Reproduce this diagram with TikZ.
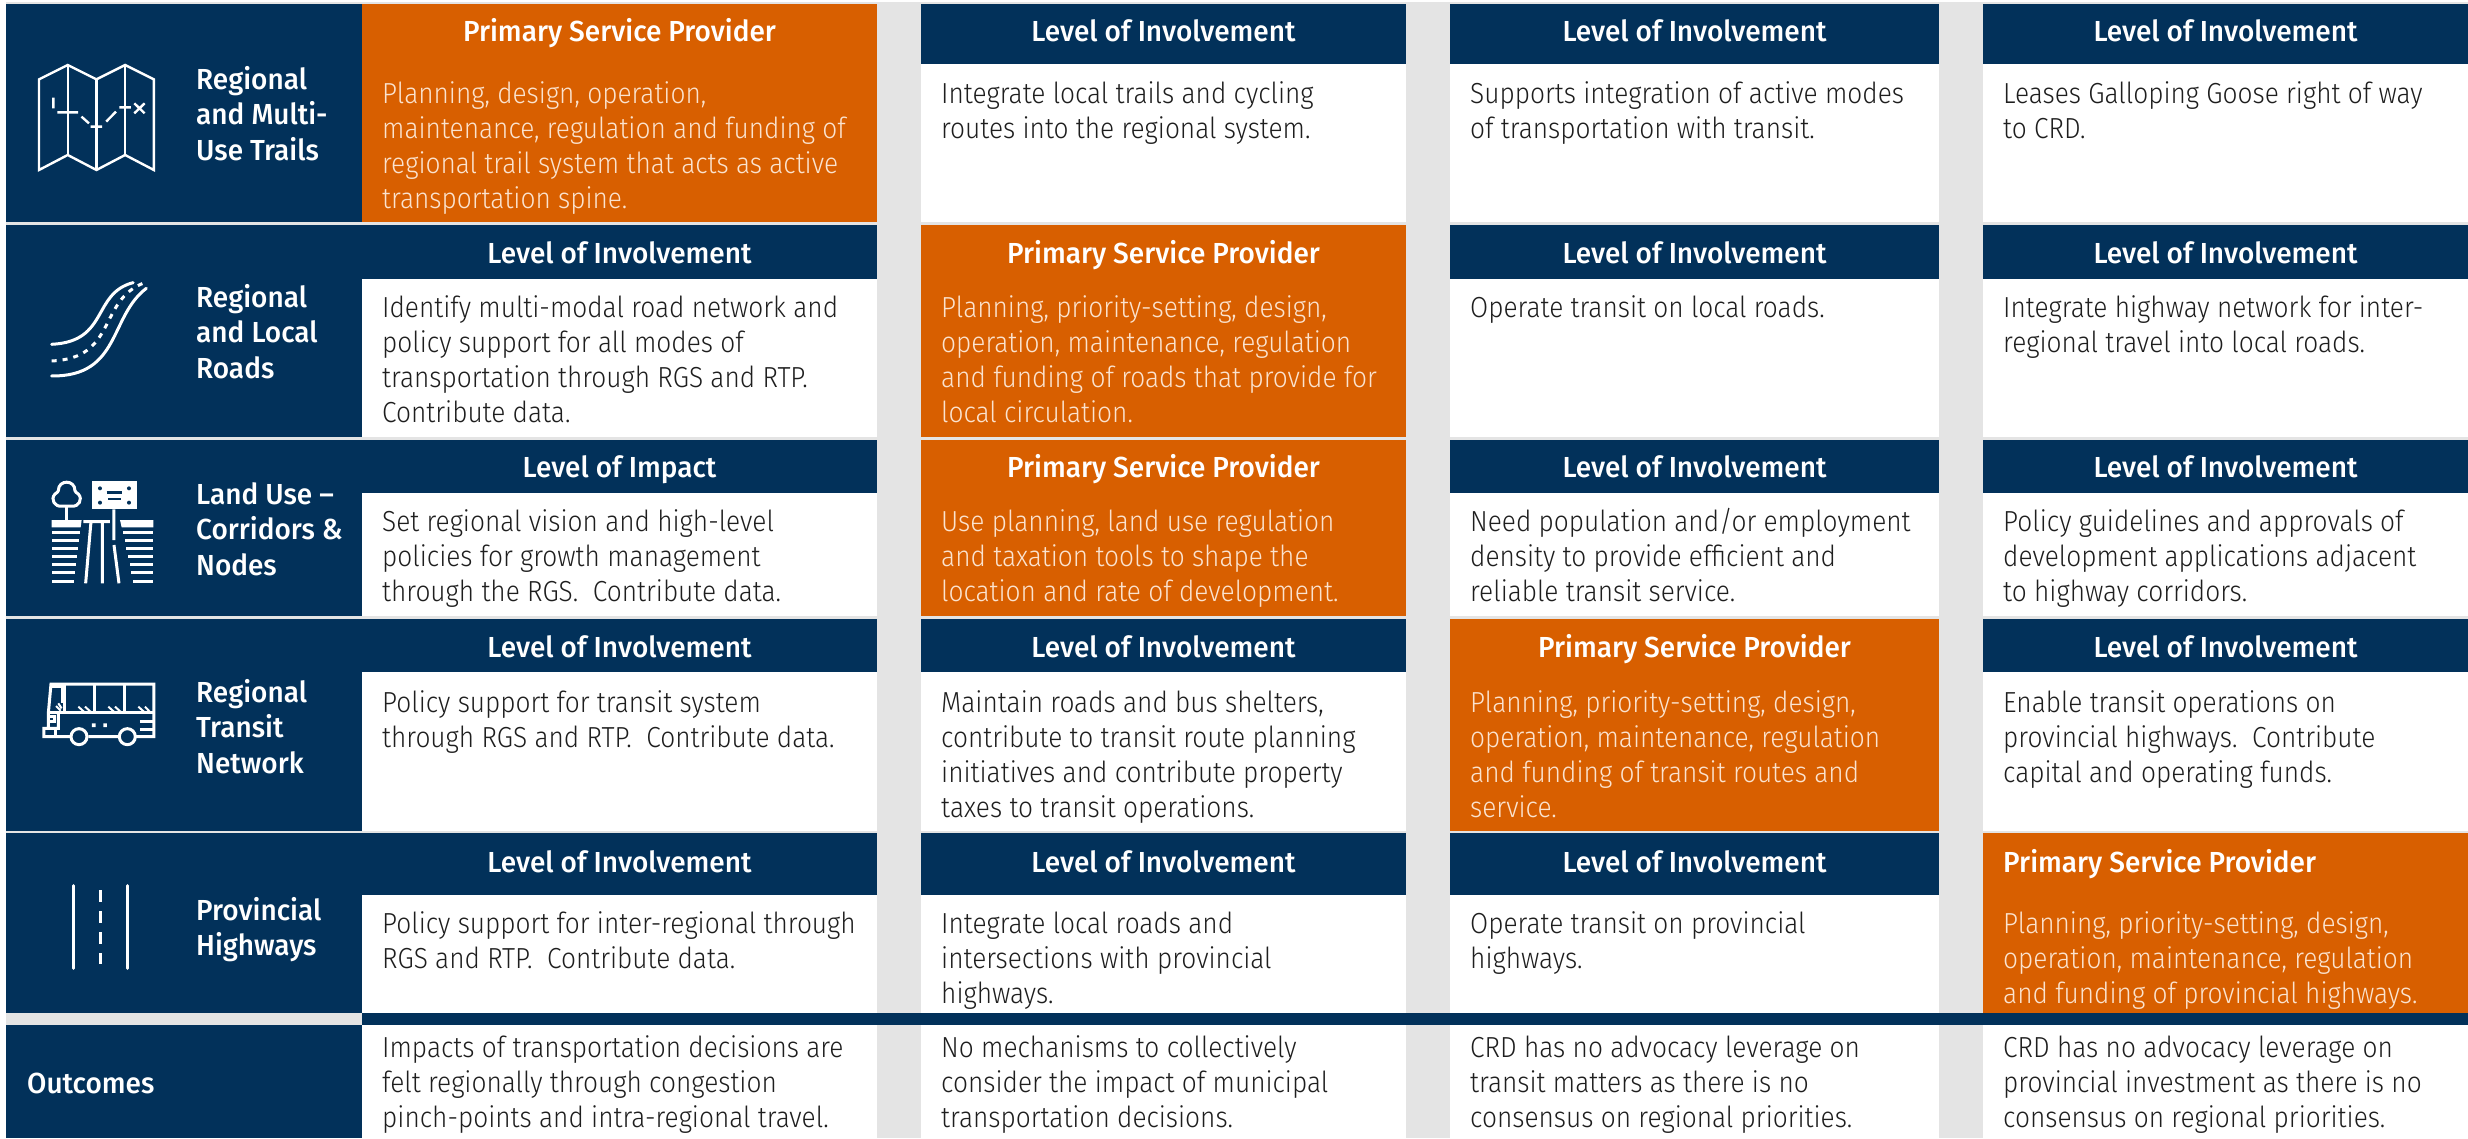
\documentclass[tikz,border=0pt]{standalone}
\usepackage{fontspec}
\newfontfamily\bodyf[FakeStretch=0.905]{Fira Sans Light}
\newfontfamily\headf[FakeStretch=0.965]{Fira Sans Medium}
\definecolor{navy}{HTML}{02315A}
\definecolor{orng}{HTML}{D85F00}
\definecolor{gapg}{HTML}{E4E4E4}
\definecolor{ink}{HTML}{1E1E1E}
\definecolor{orink}{HTML}{FBE3CF}
\newcommand\rowdim[5]{\def\rtop{#1}\def\rhead{#2}\def\rbot{#3}\def\rhb{#4}\def\rbb{#5}}
\newcommand\cell[6]{%
  \ifnum#4=1 \def\hc{orng}\def\bc{orng}\def\tc{orink}\else \def\hc{navy}\def\bc{white}\def\tc{ink}\fi
  \node[cellbox,fill=\hc,minimum width={(#3-#2)*1pt},minimum height={(\rhead-\rtop)*1pt}] (#1h) at (#2,\rtop) {};
  \node[cellbox,fill=\bc,minimum width={(#3-#2)*1pt},minimum height={(\rbot-\rhead)*1pt}] (#1b) at (#2,\rhead) {};
  \node[headtext,anchor=base] (#1ht) at ({(#2+#3)/2},\rhb) {#5};
  \node[bodytext,text=\tc] (#1bt) at ({#2+20},{\rbb-25}) {\rule{0pt}{25pt}#6};
}
\tikzset{
  x=1pt,y=-1pt,
  cellbox/.style={anchor=north west,inner sep=0pt,outer sep=0pt,draw=none},
  headtext/.style={inner sep=0pt,text=white,font=\headf\fontsize{29}{35}\selectfont},
  bodytext/.style={anchor=north west,inner sep=0pt,align=left,font=\bodyf\fontsize{29}{35.2}\selectfont},
  rowlabel/.style={anchor=north west,inner sep=0pt,align=left,text=white,font=\headf\fontsize{29}{35.5}\selectfont},
  ico/.style={draw=white,line width=2.4pt,line join=miter},
  zoomA/.style={x=0.574pt,y=-0.3333pt},
  zoomB/.style={x=0.3333pt,y=-0.3333pt}
}
\begin{document}
\begin{tikzpicture}
\useasboundingbox (0,0) rectangle (2468,1138);
\fill[white] (0,0) rectangle (2468,1138);
\fill[gapg] (6,2) rectangle (2468,1138);
\def\Lev{Level of Involvement}
\def\Pri{Primary Service Provider}
% row 1
\rowdim{4}{64}{222}{41}{103}
\node[cellbox,fill=navy,minimum width=356pt,minimum height=218pt] (r1l) at (6,4) {};
\cell{ra}{362}{877}{1}{\Pri}{Planning, design, operation,\\maintenance, regulation and funding of\\regional trail system that acts as active\\transportation spine.}
\cell{rb}{921}{1406}{0}{\Lev}{Integrate local trails and cycling\\routes into the regional system.}
\cell{rc}{1450}{1939}{0}{\Lev}{Supports integration of active modes\\of transportation with transit.}
\cell{rd}{1983}{2468}{0}{\Lev}{Leases Galloping Goose right of way\\to CRD.}
\node[rowlabel] (l1) at (196,64) {\rule{0pt}{25pt}Regional\\and Multi-\\Use Trails};
% row 2
\rowdim{225}{279}{437}{263}{317}
\node[cellbox,fill=navy,minimum width=356pt,minimum height=212pt] (r2l) at (6,225) {};
\cell{sa}{362}{877}{0}{\Lev}{Identify multi-modal road network and\\policy support for all modes of\\transportation through RGS and RTP.\\Contribute data.}
\cell{sb}{921}{1406}{1}{\Pri}{Planning, priority-setting, design,\\operation, maintenance, regulation\\and funding of roads that provide for\\local circulation.}
\cell{sc}{1450}{1939}{0}{\Lev}{Operate transit on local roads.}
\cell{sd}{1983}{2468}{0}{\Lev}{Integrate highway network for inter-\\regional travel into local roads.}
\node[rowlabel] (l2) at (196,282) {\rule{0pt}{25pt}Regional\\and Local\\Roads};
% row 3
\rowdim{439.5}{493}{616}{477}{531}
\node[cellbox,fill=navy,minimum width=356pt,minimum height=176.5pt] (r3l) at (6,439.5) {};
\cell{ta}{362}{877}{0}{Level of Impact}{Set regional vision and high-level\\policies for growth management\\through the RGS.\ \ Contribute data.}
\cell{tb}{921}{1406}{1}{\Pri}{Use planning, land use regulation\\and taxation tools to shape the\\location and rate of development.}
\cell{tc}{1450}{1939}{0}{\Lev}{Need population and/or employment\\density to provide efficient and\\reliable transit service.}
\cell{td}{1983}{2468}{0}{\Lev}{Policy guidelines and approvals of\\development applications adjacent\\to highway corridors.}
\node[rowlabel] (l3) at (196,479) {\rule{0pt}{25pt}Land Use –\\Corridors \&\\Nodes};
% row 4
\rowdim{619}{672}{831}{657}{712}
\node[cellbox,fill=navy,minimum width=356pt,minimum height=212pt] (r4l) at (6,619) {};
\cell{ua}{362}{877}{0}{\Lev}{Policy support for transit system\\through RGS and RTP.\ \ Contribute data.}
\cell{ub}{921}{1406}{0}{\Lev}{Maintain roads and bus shelters,\\contribute to transit route planning\\initiatives and contribute property\\taxes to transit operations.}
\cell{uc}{1450}{1939}{1}{\Pri}{Planning, priority-setting, design,\\operation, maintenance, regulation\\and funding of transit routes and\\service.}
\cell{ud}{1983}{2468}{0}{\Lev}{Enable transit operations on\\provincial highways.\ \ Contribute\\capital and operating funds.}
\node[rowlabel] (l4) at (196,677) {\rule{0pt}{25pt}Regional\\Transit\\Network};
% row 5
\rowdim{833}{895}{1013}{872}{933}
\node[cellbox,fill=navy,minimum width=356pt,minimum height=180pt] (r5l) at (6,833) {};
\cell{va}{362}{877}{0}{\Lev}{Policy support for inter-regional through\\RGS and RTP.\ \ Contribute data.}
\cell{vb}{921}{1406}{0}{\Lev}{Integrate local roads and\\intersections with provincial\\highways.}
\cell{vc}{1450}{1939}{0}{\Lev}{Operate transit on provincial\\highways.}
\cell{vd}{1983}{2468}{1}{\phantom{x}}{Planning, priority-setting, design,\\operation, maintenance, regulation\\and funding of provincial highways.}
\node[headtext,anchor=base west] (vdh2) at (2003,872) {\Pri};
\node[rowlabel] (l5) at (196,895) {\rule{0pt}{25pt}Provincial\\Highways};
% band
\node[cellbox,fill=navy,minimum width=2106pt,minimum height=12pt] (band) at (362,1013) {};
% outcomes
\node[cellbox,fill=navy,minimum width=356pt,minimum height=113pt] (r6l) at (6,1025) {};
\node[rowlabel] (l6) at (27,1068) {\rule{0pt}{25pt}Outcomes};
\node[cellbox,fill=white,minimum width=515pt,minimum height=113pt] (oa) at (362,1025) {};
\node[cellbox,fill=white,minimum width=485pt,minimum height=113pt] (ob) at (921,1025) {};
\node[cellbox,fill=white,minimum width=489pt,minimum height=113pt] (oc) at (1450,1025) {};
\node[cellbox,fill=white,minimum width=485pt,minimum height=113pt] (od) at (1983,1025) {};
\node[bodytext,text=ink] (oat) at (382,1032) {\rule{0pt}{25pt}Impacts of transportation decisions are\\felt regionally through congestion\\pinch-points and intra-regional travel.};
\node[bodytext,text=ink] (obt) at (941,1032) {\rule{0pt}{25pt}No mechanisms to collectively\\consider the impact of municipal\\transportation decisions.};
\node[bodytext,text=ink] (oct) at (1470,1032) {\rule{0pt}{25pt}CRD has no advocacy leverage on\\transit matters as there is no\\consensus on regional priorities.};
\node[bodytext,text=ink] (odt) at (2003,1032) {\rule{0pt}{25pt}CRD has no advocacy leverage on\\provincial investment as there is no\\consensus on regional priorities.};
% icon: map
\begin{scope}[zoomA]
\draw[ico] (68,238)--(118,195)--(168,238)--(218,195)--(268,238)--(268,510)--(218,465)--(168,510)--(118,465)--(68,510)--cycle;
\draw[ico] (118,195)--(118,465) (168,238)--(168,510) (218,195)--(218,465);
\draw[ico] (93,293)--(93,325) (100,337)--(136,337) (142,350)--(155,370) (158,380)--(178,380) (185,365)--(202,335) (208,322)--(228,322) (234,310)--(252,340) (252,310)--(234,340);
% icon: roads
\draw[ico,line width=3pt,line cap=round] (90,1033) .. controls (190,1025) and (160,880) .. (232,848);
\draw[ico,line width=3pt,line cap=round] (90,1128) .. controls (210,1130) and (190,950) .. (255,865);
\draw[ico,line width=3pt,dash pattern=on 5pt off 6pt] (90,1083) .. controls (205,1075) and (170,900) .. (252,848);
\end{scope}
% icon: land use
\begin{scope}[shift={(30,470)},zoomB]
\draw[ico,line width=3pt] (95,108) .. controls (75,112) and (60,88) .. (75,72) .. controls (80,68) and (85,66) .. (85,62) .. controls (85,28) and (135,28) .. (135,62) .. controls (135,66) and (140,68) .. (145,72) .. controls (160,88) and (145,112) .. (125,108) -- cycle;
\draw[ico,line width=3pt] (110,108)--(110,150);
\fill[white] (187,34) rectangle (320,118);
\foreach \dx/\dy in {210/55,297/55,210/98,297/98}{\fill[navy] (\dx,\dy) circle[radius=2pt];}
\draw[navy,line width=2.5pt] (230,67)--(277,67) (235,87)--(272,87);
\draw[ico,line width=3pt] (252,118)--(252,210) (160,155)--(240,155) (183,155)--(167,340) (217,155)--(217,340) (252,225)--(267,340);
\fill[white] (65,150) -- (155,150) -- (152,172) -- (65,172) -- cycle;
\fill[white] (270,150) -- (370,150) -- (370,172) -- (275,172) -- cycle;
\foreach \ya/\xa/\xb in {183/150/279,207/147/284,231/144/289,255/141/294,279/138/299,303/135/304,330/131/310}{
  \fill[white] (65,\ya) rectangle (\xa,\ya+10);
  \fill[white] (\xb,\ya) rectangle (370,\ya+10);
}
\end{scope}
% icon: bus
\begin{scope}[shift={(30,670)},zoomB]
\draw[ico,line width=3pt] (55,130)--(63,42)--(372,42)--(372,200)--(315,200) (265,200)--(175,200) (120,200)--(42,200)--(42,175)--(55,175)--(55,130) (55,175)--(85,175)--(85,128);
\draw[ico,line width=3pt] (60,128)--(372,128) (105,42)--(105,128) (195,42)--(195,128) (283,42)--(283,128) (63,48)--(97,48)--(97,100);
\draw[ico,line width=2pt] (85,100)--(95,115) (78,108)--(92,122) (145,110)--(165,128) (165,110)--(185,128) (235,110)--(255,128) (255,110)--(275,128) (325,110)--(345,128) (345,110)--(362,128);
\draw[ico,line width=3pt] (55,140)--(75,140)--(75,155)--(55,155) (330,155)--(372,155) (330,178)--(372,178) (78,178)--(78,200);
\fill[white] (186,160) rectangle (197,171) (220,160) rectangle (231,171);
\draw[ico,line width=3pt] (147,200) circle[radius=8pt];
\draw[ico,line width=3pt] (292,200) circle[radius=8pt];
\end{scope}
% icon: highway
\begin{scope}[shift={(0,820)},zoomA]
\draw[ico,line width=3pt,line cap=round] (128,197)--(128,445) (222,197)--(222,445);
\draw[ico,line width=3pt,dash pattern=on 12pt off 9pt] (175,210)--(175,432);
\end{scope}
\end{tikzpicture}
\end{document}
